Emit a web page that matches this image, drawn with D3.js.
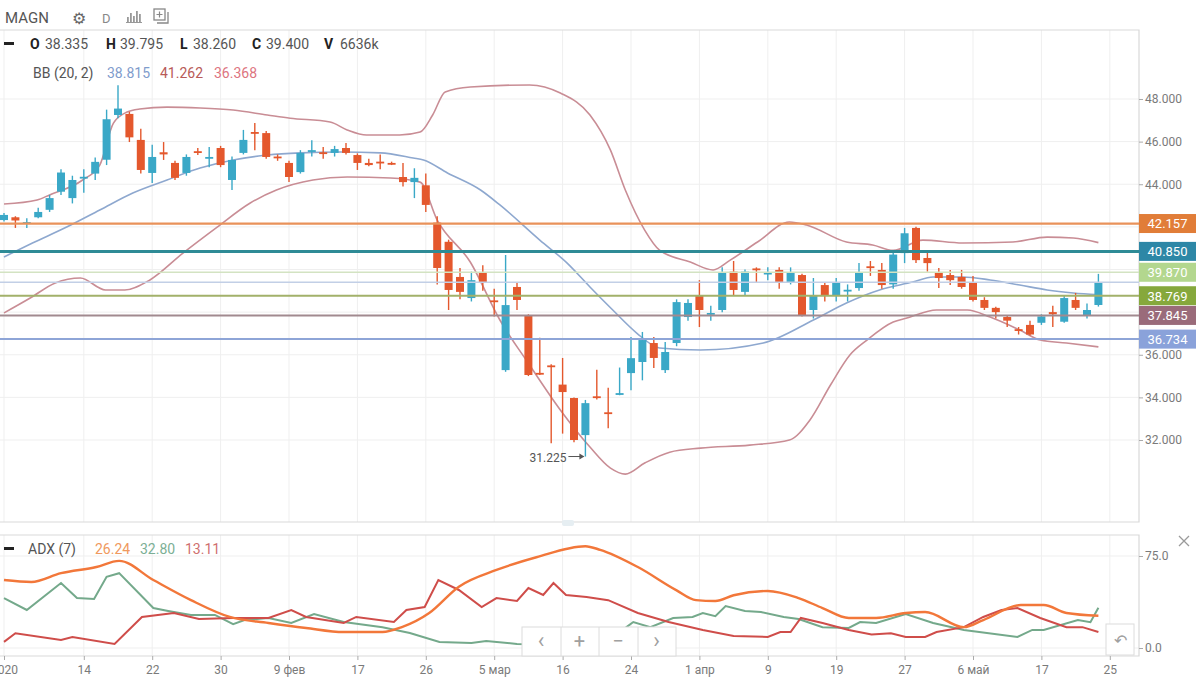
<!DOCTYPE html>
<html>
<head>
<meta charset="utf-8">
<script src="https://d3js.org/d3.v7.min.js"></script>
<style>
    * { margin: 0; padding: 0; }
    body { width: 1200px; height: 689px; background: #fff; overflow: hidden; }
    text { font-family: Roboto, "Open Sans", sans-serif; }
    .axis text { font-size: 12px; fill: #7a7a7a; }
    .axis line { stroke: #aaa; }
    .axis .domain { display: none; }
</style>
</head>
<body>
<div id="chart"></div>
<script>
    // candles: [open, high, low, close]
    const ohlc = [
        [42.32, 42.65, 42.25, 42.56], [42.45, 42.50, 41.95, 42.30], [42.15, 42.40, 41.95, 42.22],
        [42.45, 42.90, 42.40, 42.70], [42.80, 43.50, 42.70, 43.35], [43.65, 44.70, 43.50, 44.55],
        [43.35, 44.40, 43.10, 44.20], [44.30, 44.70, 43.60, 44.35], [44.50, 45.25, 44.20, 45.05],
        [45.15, 47.50, 44.90, 47.05], [47.25, 48.65, 47.10, 47.55], [47.30, 47.40, 45.98, 46.20],
        [46.08, 46.60, 44.50, 44.67], [44.53, 45.85, 44.06, 45.28], [45.50, 45.98, 45.14, 45.40],
        [45.00, 45.10, 44.20, 44.30], [44.53, 45.40, 44.40, 45.28], [45.55, 45.70, 45.37, 45.48],
        [45.20, 45.75, 44.80, 45.28], [45.70, 45.80, 44.80, 44.90], [44.20, 45.30, 43.73, 45.14],
        [45.47, 46.55, 45.40, 46.08], [46.45, 46.87, 45.60, 46.40], [46.40, 46.50, 45.20, 45.28],
        [45.30, 45.40, 45.10, 45.23], [45.00, 45.10, 44.10, 44.34], [44.57, 45.60, 44.50, 45.47],
        [45.55, 46.07, 45.30, 45.60], [45.50, 45.75, 45.20, 45.45], [45.47, 45.80, 45.30, 45.65],
        [45.70, 45.94, 45.40, 45.47], [45.37, 45.45, 44.67, 45.00], [45.00, 45.20, 44.85, 44.90],
        [45.06, 45.40, 44.70, 45.00], [45.00, 45.06, 44.90, 44.97], [44.34, 45.00, 43.90, 44.10],
        [44.10, 44.75, 43.35, 44.30], [43.95, 44.50, 42.70, 43.03], [42.20, 42.50, 39.30, 40.07],
        [41.30, 41.40, 38.10, 39.04], [39.65, 40.07, 38.60, 38.95], [38.66, 39.90, 38.50, 39.50],
        [39.84, 40.20, 39.00, 39.37], [38.55, 39.10, 37.80, 38.47], [35.28, 40.68, 35.20, 38.33],
        [39.18, 39.40, 38.10, 38.57], [37.86, 37.90, 35.00, 35.05], [35.15, 36.80, 35.05, 35.10],
        [35.50, 35.55, 31.85, 35.45], [34.60, 35.85, 32.30, 34.25], [33.97, 34.00, 31.90, 32.00],
        [32.23, 33.88, 31.225, 33.73], [34.05, 35.30, 33.90, 34.00], [33.30, 34.45, 32.55, 33.25],
        [34.17, 35.40, 34.10, 34.20], [35.14, 36.83, 34.34, 35.84], [35.66, 37.07, 34.80, 36.69],
        [36.55, 36.83, 35.38, 35.85], [35.28, 36.60, 35.14, 36.13], [36.55, 38.60, 36.40, 38.47],
        [37.77, 38.60, 37.60, 38.43], [38.80, 39.50, 37.30, 38.10], [37.95, 38.30, 37.60, 37.96],
        [38.10, 40.10, 38.00, 39.84], [39.90, 40.40, 38.80, 39.04], [38.95, 40.00, 38.80, 39.90],
        [40.05, 40.10, 39.37, 40.00], [39.80, 40.10, 39.50, 39.85], [39.98, 40.10, 39.10, 39.40],
        [39.37, 40.10, 39.30, 39.84], [39.74, 39.80, 37.80, 37.86], [38.10, 39.60, 37.70, 38.80],
        [39.27, 39.40, 38.50, 38.80], [38.80, 39.60, 38.50, 39.40], [39.00, 39.30, 38.50, 39.05],
        [39.13, 40.30, 39.00, 39.84], [40.15, 40.40, 39.70, 40.10], [39.98, 40.30, 39.10, 39.27],
        [39.30, 40.90, 39.10, 40.70], [40.77, 41.95, 40.30, 41.70], [41.95, 42.00, 40.30, 40.44],
        [40.54, 40.90, 39.90, 40.30], [39.84, 40.07, 39.13, 39.60], [39.74, 39.98, 39.27, 39.50],
        [39.65, 39.98, 39.10, 39.18], [39.37, 39.70, 38.50, 38.57], [38.57, 38.70, 38.10, 38.20],
        [38.20, 38.25, 37.70, 38.00], [37.77, 37.85, 37.30, 37.60], [37.20, 37.30, 36.95, 37.16],
        [37.40, 37.60, 36.90, 36.95], [37.50, 37.90, 37.40, 37.80], [38.00, 38.30, 37.30, 37.90],
        [37.55, 38.80, 37.50, 38.66], [38.57, 38.90, 38.10, 38.20], [37.86, 38.40, 37.70, 38.10],
        [38.335, 39.795, 38.26, 39.40]
    ];

    const tickIdx = [0, 7, 13, 19, 25, 31, 37, 43, 49, 55, 61, 67, 73, 79, 85, 91, 97];
    const tickLabels = ["2020", "14", "22", "30", "9 фев", "17", "26", "5 мар", "16", "24",
        "1 апр", "9", "19", "27", "6 май", "17", "25"];
    const priceTicks = [32, 34, 36, 38, 40, 42, 44, 46, 48];
    const adxTicks = [0, 75];

    // Bollinger bands [candle index, price]
    const bbUpper = [[0, 43.07], [2.9, 43.26], [4, 43.5], [6.9, 44.2], [8.4, 44.9], [9.6, 46.87], [10.8, 47.39],
        [11.9, 47.53], [14.3, 47.62], [17.2, 47.58], [20.1, 47.48], [23.1, 47.25], [25.1, 47.1], [28.6, 46.92],
        [30.1, 46.55], [31.8, 46.31], [34.7, 46.31], [36.5, 46.45], [37.6, 47.25], [38.7, 48.33], [40.9, 48.56],
        [46.1, 48.66], [48.8, 48.28], [51.4, 47.25], [53.2, 45.6], [54.5, 43.73], [56.2, 41.85], [57.5, 40.91],
        [60.2, 40.35], [62.2, 39.98], [63.7, 40.44], [66.1, 41.29], [68.9, 42.23], [70.4, 42.09], [73.9, 41.29],
        [76.2, 41.15], [78, 40.9], [80.6, 41.38], [84.1, 41.24], [88.5, 41.29], [91.5, 41.52], [93.8, 41.48],
        [96, 41.262]];
    const bbMiddle = [[0, 40.59], [2.5, 41.24], [5.5, 41.99], [8.4, 42.79], [11.3, 43.59], [14.3, 44.2],
        [17.2, 44.76], [20.1, 45.14], [23.1, 45.37], [26, 45.47], [29.5, 45.51], [33, 45.47], [35.9, 45.23],
        [36.8, 45.14], [38.9, 44.53], [41.8, 43.73], [43.5, 43.03], [47, 41.38], [49.4, 40.3], [51.4, 39.18],
        [53.4, 38.1], [55.5, 37.02], [57.5, 36.32], [61.1, 36.22], [66.6, 36.55], [71, 37.63], [73.9, 38.43],
        [76.8, 39.04], [79.7, 39.41], [81.5, 39.65], [84.1, 39.65], [86.5, 39.51], [89.1, 39.27], [91.5, 39.04],
        [93.8, 38.9], [96, 38.815]];
    const bbLower = [[0, 37.96], [2.3, 38.66], [4.5, 39.37], [6.7, 39.6], [8.9, 39.04], [10.6, 39.04],
        [12.8, 39.51], [15.7, 40.77], [18.7, 41.99], [21.6, 43.12], [23.9, 43.73], [27.1, 44.2], [30.1, 44.34],
        [33.9, 44.29], [36.5, 44.1], [38, 42.32], [40.9, 40.35], [43.5, 37.63], [46.1, 35.52], [48.8, 33.41],
        [51.4, 31.67], [53.2, 30.68], [54.5, 30.4], [56.2, 30.92], [58.4, 31.43], [61.1, 31.62], [65.4, 31.76],
        [68.9, 32.0], [70.7, 32.94], [72.5, 34.58], [74.2, 35.99], [75.7, 36.69], [78, 37.54], [79.2, 37.72],
        [81.8, 38.1], [84.5, 38.1], [86.5, 37.77], [89.1, 37.16], [90.9, 36.69], [93.2, 36.55], [96, 36.368]];

    // horizontal levels
    const levels = [42.157, 40.850, 39.870, 38.769, 37.845, 36.734];
    const levelBoxColors = ["#e17d38", "#2d87a6", "#b3d78e", "#86a83c", "#9a6b7a", "#8aa2da"];
    const levelLineColors = ["#e9925a", "#2e8b96", "#d3e3c2", "#a2b16a", "#a18a8f", "#8ea5d7"];
    const levelWidths = [2.2, 3, 1.5, 2, 2, 2];
    const lastPrice = 39.40;

    // ADX (7): [candle index, value]
    const adxLine = [[0, 55.4], [2.4, 53.8], [5, 61], [8.1, 66], [10.1, 71], [13.1, 55.4], [16.4, 39], [19.8, 25.3],
        [23.2, 20.4], [26.5, 16.3], [29.8, 13], [33.2, 13], [34.9, 17], [37.3, 28.5], [39.9, 50], [43.2, 63.6],
        [46.7, 74], [51, 83], [52.3, 80], [55.6, 66], [59, 47], [60.7, 39], [62.4, 38.3], [64, 43], [67, 46.5],
        [69.7, 40.7], [71.8, 32.6], [74.1, 24.5], [76.5, 24.5], [79.1, 28.5], [80.8, 29.3], [84.2, 17],
        [85.9, 22.8], [89.2, 35], [91.2, 35], [93.2, 28.5], [96, 26.24]];
    const plusDI = [[0, 40.7], [2, 31], [5, 53], [6.4, 40.7], [7.9, 40], [9, 58], [10.1, 61], [13.1, 32.6],
        [14.4, 30.2], [16.4, 26.9], [18.5, 27], [20.1, 19.5], [21.1, 22.8], [23.2, 24.5], [25.2, 20.4],
        [27.2, 27.7], [29.8, 21.2], [33.2, 17], [35.6, 12.2], [38.2, 4.9], [41, 4.1], [42.3, 5.7], [45, 3.3],
        [48.8, 2.5], [52.3, 2], [53.2, 8], [54.6, 17], [55.2, 21.2], [56.7, 17], [58.7, 24.5], [60.4, 25.3],
        [61.3, 28.5], [62.4, 26], [63.3, 34.2], [65, 30.2], [66.4, 29.3], [68.4, 25.3], [69.7, 23.6], [71.8, 17],
        [74.1, 16.3], [75.1, 21.2], [76.5, 20.4], [79.1, 27.7], [81.5, 20.4], [84.2, 14.7], [88.9, 9],
        [90.2, 14.7], [91.2, 14.7], [94.2, 22.8], [95.3, 21], [96, 32.8]];
    const minusDI = [[0, 5], [1, 12], [5, 6.5], [6, 9], [9.7, 3.3], [12.1, 25.3], [14.9, 28.5], [17.1, 23.6],
        [20.1, 24.5], [23.2, 24.5], [25.2, 31], [26.5, 25.3], [29.8, 20.4], [30.9, 25.3], [34.2, 21.2],
        [35.3, 31], [36.9, 33.4], [38.1, 55.4], [39.9, 47.3], [41.9, 33.4], [43.2, 40.7], [45, 38.3], [46, 48.9],
        [47.3, 43.2], [48.2, 53], [49.3, 43.2], [51.1, 41.6], [53, 39], [55.6, 28.5], [58.3, 21.2], [61.3, 14.7],
        [64, 9.8], [67, 9], [68.1, 13], [69, 13], [69.9, 24.5], [71.8, 20.4], [74.1, 14.7], [76.1, 11],
        [77.8, 12], [79.1, 9], [80.8, 9], [81.8, 13], [84.2, 17], [85.9, 25.3], [87.5, 31], [88.9, 32.6],
        [90.9, 24.5], [93.2, 17], [94.6, 17], [96, 13.11]];

    const upColor = "#3aa8c7", downColor = "#e4582d";

    const W = 1200, H = 689;
    const plotRight = 1139;
    const mainTop = 30, mainBottom = 522;
    const adxTop = 535, adxBottom = 656;

    const svg = d3.select("#chart").append("svg")
        .attr("width", W)
        .attr("height", H);

    svg.append("rect").attr("width", W).attr("height", H).attr("fill", "#fff");

    const x = d3.scaleLinear().domain([0, 97]).range([4, 4 + 97 * 11.4]);
    const y = d3.scaleLinear().domain([28.153, 51.237]).range([mainBottom, mainTop]);
    const ya = d3.scaleLinear().domain([-6.52, 92.12]).range([adxBottom, adxTop]);

    const defs = svg.append("defs");
    defs.append("clipPath").attr("id", "clipMain")
        .append("rect").attr("x", 0).attr("y", mainTop).attr("width", plotRight).attr("height", mainBottom - mainTop);
    defs.append("clipPath").attr("id", "clipAdx")
        .append("rect").attr("x", 0).attr("y", adxTop).attr("width", plotRight).attr("height", adxBottom - adxTop);

    // grid
    const grid = svg.append("g").attr("stroke", "#efefef").attr("stroke-width", 1);
    tickIdx.forEach(t => {
        grid.append("line").attr("x1", x(t)).attr("x2", x(t)).attr("y1", mainTop).attr("y2", mainBottom);
        grid.append("line").attr("x1", x(t)).attr("x2", x(t)).attr("y1", adxTop).attr("y2", adxBottom);
    });
    priceTicks.forEach(p => {
        grid.append("line").attr("x1", 0).attr("x2", plotRight).attr("y1", y(p)).attr("y2", y(p));
    });
    adxTicks.forEach(v => {
        grid.append("line").attr("x1", 0).attr("x2", plotRight).attr("y1", ya(v)).attr("y2", ya(v));
    });

    // panel borders
    const border = svg.append("g").attr("fill", "none").attr("stroke", "#d9d9d9").attr("stroke-width", 1.2);
    border.append("path").attr("d", `M0,${mainTop}H${plotRight}V${mainBottom}H0`);
    border.append("path").attr("d", `M0,${adxTop}H${plotRight}V${adxBottom}H0`);

    // divider handle
    svg.append("rect").attr("x", 562).attr("y", 520).attr("width", 12).attr("height", 6)
        .attr("rx", 2).attr("fill", "#e6eef2");

    const mainG = svg.append("g").attr("clip-path", "url(#clipMain)");

    // bollinger bands
    const bbLine = d3.line().x(d => x(d[0])).y(d => y(d[1])).curve(d3.curveMonotoneX);
    mainG.append("path").datum(bbUpper).attr("d", bbLine)
        .attr("fill", "none").attr("stroke", "#c98d95").attr("stroke-width", 1.6);
    mainG.append("path").datum(bbLower).attr("d", bbLine)
        .attr("fill", "none").attr("stroke", "#c98d95").attr("stroke-width", 1.6);
    mainG.append("path").datum(bbMiddle).attr("d", bbLine)
        .attr("fill", "none").attr("stroke", "#8ea8cf").attr("stroke-width", 1.6);

    // candles
    const bodyW = 8;
    const cg = mainG.selectAll(".candle")
        .data(ohlc)
        .enter()
        .append("g")
        .attr("class", "candle");

    cg.append("line")
        .attr("x1", (d, i) => x(i)).attr("x2", (d, i) => x(i))
        .attr("y1", d => y(d[1])).attr("y2", d => y(d[2]))
        .attr("stroke", d => d[3] >= d[0] ? upColor : downColor)
        .attr("stroke-width", 1.4);

    cg.append("rect")
        .attr("x", (d, i) => x(i) - bodyW / 2)
        .attr("width", bodyW)
        .attr("y", d => y(Math.max(d[0], d[3])))
        .attr("height", d => Math.max(1.8, Math.abs(y(d[0]) - y(d[3]))))
        .attr("fill", d => d[3] >= d[0] ? upColor : downColor);

    // level lines
    mainG.append("line")
        .attr("x1", 0).attr("x2", plotRight)
        .attr("y1", y(lastPrice)).attr("y2", y(lastPrice))
        .attr("stroke", "#c2cfe6").attr("stroke-width", 1.5);

    levels.forEach((lv, i) => {
        mainG.append("line")
            .attr("x1", 0).attr("x2", plotRight)
            .attr("y1", y(lv)).attr("y2", y(lv))
            .attr("stroke", levelLineColors[i])
            .attr("stroke-width", levelWidths[i]);
    });

    // low marker
    const lowIdx = 51;
    svg.append("text")
        .attr("x", x(lowIdx) - 19).attr("y", y(ohlc[lowIdx][2]) + 5)
        .attr("text-anchor", "end")
        .attr("font-size", 12).attr("fill", "#555")
        .text("31.225");
    svg.append("line")
        .attr("x1", x(lowIdx) - 17).attr("x2", x(lowIdx) - 2)
        .attr("y1", y(ohlc[lowIdx][2])).attr("y2", y(ohlc[lowIdx][2]))
        .attr("stroke", "#555").attr("stroke-width", 1);
    svg.append("path")
        .attr("d", `M${x(lowIdx) - 1},${y(ohlc[lowIdx][2])}l-5,-3v6z`)
        .attr("fill", "#555");

    // right price axis (labels hidden behind level boxes are left out)
    const visibleTicks = priceTicks.filter(p => levels.every(lv => Math.abs(y(p) - y(lv)) > 12));
    svg.append("g")
        .attr("class", "axis")
        .attr("transform", `translate(${plotRight},0)`)
        .call(d3.axisRight(y).tickValues(visibleTicks).tickFormat(d3.format(".3f")).tickSize(4).tickPadding(2));

    // level labels on axis
    levels.forEach((lv, i) => {
        svg.append("rect")
            .attr("x", plotRight).attr("y", y(lv) - 9.5)
            .attr("width", 57).attr("height", 19)
            .attr("fill", levelBoxColors[i]);
        svg.append("text")
            .attr("x", plotRight + 28.5).attr("y", y(lv) + 4.8)
            .attr("text-anchor", "middle")
            .attr("font-size", 13).attr("fill", "#fff")
            .text(d3.format(".3f")(lv));
    });

    // ADX panel
    const adxG = svg.append("g").attr("clip-path", "url(#clipAdx)");
    const aLine = d3.line().x(d => x(d[0])).y(d => ya(d[1]));
    adxG.append("path").datum(plusDI).attr("d", aLine)
        .attr("fill", "none").attr("stroke", "#74a98b").attr("stroke-width", 2);
    adxG.append("path").datum(minusDI).attr("d", aLine)
        .attr("fill", "none").attr("stroke", "#cf4d4a").attr("stroke-width", 2);
    adxG.append("path").datum(adxLine).attr("d", aLine.curve(d3.curveMonotoneX))
        .attr("fill", "none").attr("stroke", "#f2773a").attr("stroke-width", 2.4);

    svg.append("g")
        .attr("class", "axis")
        .attr("transform", `translate(${plotRight},0)`)
        .call(d3.axisRight(ya).tickValues(adxTicks).tickFormat(d3.format(".1f")).tickSize(4).tickPadding(2));

    // bottom date axis
    svg.append("g")
        .attr("class", "axis")
        .attr("transform", `translate(0,${adxBottom})`)
        .call(d3.axisBottom(x).tickValues(tickIdx).tickFormat((d, i) => tickLabels[i]).tickSize(4).tickPadding(5));

    // navigation buttons
    const nav = svg.append("g");
    nav.append("rect").attr("x", 522).attr("y", 627).attr("width", 154).attr("height", 29)
        .attr("fill", "#fff").attr("stroke", "#dcdcdc");
    [561, 599, 638].forEach(sx => {
        nav.append("line").attr("x1", sx).attr("x2", sx).attr("y1", 627).attr("y2", 656).attr("stroke", "#dcdcdc");
    });
    ["‹", "+", "−", "›"].forEach((g, i) => {
        nav.append("text")
            .attr("x", 541 + i * 38.5).attr("y", 648)
            .attr("text-anchor", "middle")
            .attr("font-size", g === "‹" || g === "›" ? 22 : 20)
            .attr("fill", "#a0a0a0")
            .text(g);
    });
    nav.append("rect").attr("x", 1106).attr("y", 624).attr("width", 28).attr("height", 31)
        .attr("fill", "#fff").attr("stroke", "#dcdcdc");
    nav.append("text").attr("x", 1120).attr("y", 646).attr("text-anchor", "middle")
        .attr("font-family", "DejaVu Sans").attr("font-size", 16).attr("fill", "#a0a0a0").text("↶");
    // close cross
    svg.append("path").attr("d", "M1179,536l10,10M1189,536l-10,10")
        .attr("stroke", "#9a9a9a").attr("stroke-width", 1.3);

    // header
    const hdr = svg.append("g");
    hdr.append("text").attr("x", 5).attr("y", 23).attr("font-size", 15).attr("fill", "#555").text("MAGN");
    hdr.append("text").attr("x", 72).attr("y", 24).attr("font-family", "DejaVu Sans")
        .attr("font-size", 16).attr("fill", "#666").text("⚙");
    hdr.append("text").attr("x", 102).attr("y", 23).attr("font-size", 13).attr("fill", "#888").text("D");
    // bars icon
    [[127, 5], [130, 9], [133, 6], [136, 11], [139, 8]].forEach(b => {
        hdr.append("rect").attr("x", b[0]).attr("y", 22 - b[1]).attr("width", 1.8).attr("height", b[1]).attr("fill", "#999");
    });
    hdr.append("line").attr("x1", 126).attr("x2", 142).attr("y1", 22.5).attr("y2", 22.5).attr("stroke", "#999");
    // box icon
    hdr.append("rect").attr("x", 154).attr("y", 9).attr("width", 11).attr("height", 11)
        .attr("fill", "none").attr("stroke", "#888").attr("stroke-width", 1.3);
    hdr.append("path").attr("d", "M157,23H168V12").attr("fill", "none").attr("stroke", "#888").attr("stroke-width", 1.3);
    hdr.append("path").attr("d", "M159.5,11.5v6M156.5,14.5h6").attr("stroke", "#888").attr("stroke-width", 1.2);

    hdr.append("rect").attr("x", 4).attr("y", 42).attr("width", 10).attr("height", 3).attr("fill", "#222");
    const ohlcLegend = [
        ["O", 30, true], ["38.335", 45, false], ["H", 106, true], ["39.795", 120, false],
        ["L", 180, true], ["38.260", 193, false], ["C", 252, true], ["39.400", 266, false],
        ["V", 324, true], ["6636k", 340, false]
    ];
    ohlcLegend.forEach(d => {
        hdr.append("text").attr("x", d[1]).attr("y", 49)
            .attr("font-size", 14)
            .attr("font-weight", d[2] ? "bold" : "normal")
            .attr("fill", d[2] ? "#222" : "#555")
            .text(d[0]);
    });

    hdr.append("text").attr("x", 33).attr("y", 78).attr("font-size", 14).attr("fill", "#555").text("BB (20, 2)");
    hdr.append("text").attr("x", 107).attr("y", 78).attr("font-size", 14).attr("fill", "#7f9ccc").text("38.815");
    hdr.append("text").attr("x", 160).attr("y", 78).attr("font-size", 14).attr("fill", "#b85a58").text("41.262");
    hdr.append("text").attr("x", 214).attr("y", 78).attr("font-size", 14).attr("fill", "#dd7480").text("36.368");

    // ADX legend
    svg.append("rect").attr("x", 4).attr("y", 547).attr("width", 10).attr("height", 3).attr("fill", "#222");
    svg.append("text").attr("x", 28).attr("y", 554).attr("font-size", 14).attr("fill", "#555").text("ADX (7)");
    svg.append("text").attr("x", 95).attr("y", 554).attr("font-size", 14).attr("fill", "#f0995e").text("26.24");
    svg.append("text").attr("x", 140).attr("y", 554).attr("font-size", 14).attr("fill", "#7caf95").text("32.80");
    svg.append("text").attr("x", 185).attr("y", 554).attr("font-size", 14).attr("fill", "#cf6f6f").text("13.11");
</script>
</body>
</html>
